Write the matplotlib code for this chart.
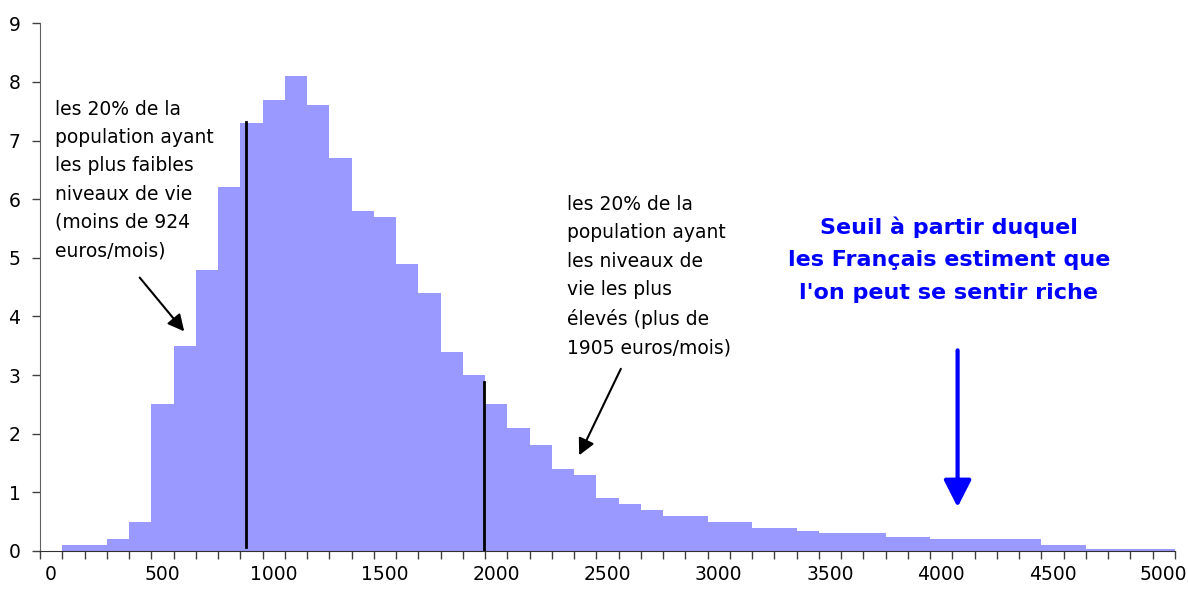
import numpy as np
import matplotlib.pyplot as plt

# income classes (euros/month, step 100) and share of population (%)
revenus = list(range(0, 5100, 100))
parts = [0, 0.1, 0.1, 0.2, 0.5, 2.5, 3.5, 4.8, 6.2, 7.3,
         7.7, 8.1, 7.6, 6.7, 5.8, 5.7, 4.9, 4.4, 3.4, 3.0,
         2.5, 2.1, 1.8, 1.4, 1.3, 0.9, 0.8, 0.7, 0.6, 0.6,
         0.5, 0.5, 0.4, 0.4, 0.34, 0.3, 0.3, 0.3, 0.24, 0.24,
         0.2, 0.2, 0.2, 0.2, 0.2, 0.1, 0.1, 0.03, 0.03, 0.03, 0.03]

x_labels = [0, 500, 1000, 1500, 2000, 2500, 3000, 3500, 4000, 4500, 5000]

# deciles lines (x position, top of line)
d1_x, d1_top = 876, 7.32
d9_x, d9_top = 1945, 2.88

txt_bas = ("les 20% de la\npopulation ayant\nles plus faibles\n"
           "niveaux de vie\n(moins de 924\neuros/mois)")
txt_haut = ("les 20% de la\npopulation ayant\nles niveaux de\n"
            "vie les plus\nélevés (plus de\n1905 euros/mois)")
txt_riche = "Seuil à partir duquel\nles Français estiment que\nl'on peut se sentir riche"

fig = plt.figure(figsize=(11.88, 5.90), dpi=100)
ax = fig.add_axes([40 / 1188, 1 - 551 / 590, 1134.75 / 1188, (551 - 23.3) / 590])

ax.bar(revenus, parts, width=100, color='#9999FF', linewidth=0, zorder=2)

ax.set_xlim(-50, 5050)
ax.set_ylim(0, 9)

# category axis: tick marks between classes, labels every 500
ax.set_xticks(x_labels)
ax.set_xticklabels([str(v) for v in x_labels])
ax.set_xticks(np.arange(-50, 5100, 100), minor=True)
ax.tick_params(axis='x', which='major', length=0, pad=10, labelsize=13.5)
ax.tick_params(axis='x', which='minor', length=6, width=1, color='#404040', direction='out')
ax.set_yticks(range(0, 10))
ax.tick_params(axis='y', length=6, width=1, color='#404040', direction='out', labelsize=13.5, pad=8)

for s in ['top', 'right']:
    ax.spines[s].set_visible(False)
ax.spines['left'].set_color('#606060')
ax.spines['bottom'].set_color('#303030')

ax.plot([d1_x, d1_x], [0.07, d1_top], color='black', lw=2, zorder=3)
ax.plot([d9_x, d9_x], [0, d9_top], color='black', lw=2, zorder=3)

ax.text(17, 6.33, txt_bas, fontsize=13.5, va='center', ha='left', linespacing=1.62)
ax.text(2318, 4.69, txt_haut, fontsize=13.5, va='center', ha='left', linespacing=1.62)
ax.text(4035, 4.97, txt_riche, fontsize=16, fontweight='bold', color='#0000FF',
        va='center', ha='center', linespacing=1.78)

ax.annotate('', xy=(606, 3.71), xytext=(390, 4.70),
            arrowprops=dict(arrowstyle='-|>,head_width=0.28,head_length=0.55',
                            color='black', lw=1.5, mutation_scale=18))
ax.annotate('', xy=(2368, 1.59), xytext=(2566, 3.15),
            arrowprops=dict(arrowstyle='-|>,head_width=0.28,head_length=0.55',
                            color='black', lw=1.5, mutation_scale=18))
ax.annotate('', xy=(4074, 0.70), xytext=(4074, 3.47),
            arrowprops=dict(arrowstyle='-|>,head_width=0.28,head_length=0.55',
                            color='#0000FF', lw=3, mutation_scale=30))

fig.savefig('out.png', dpi=100)
